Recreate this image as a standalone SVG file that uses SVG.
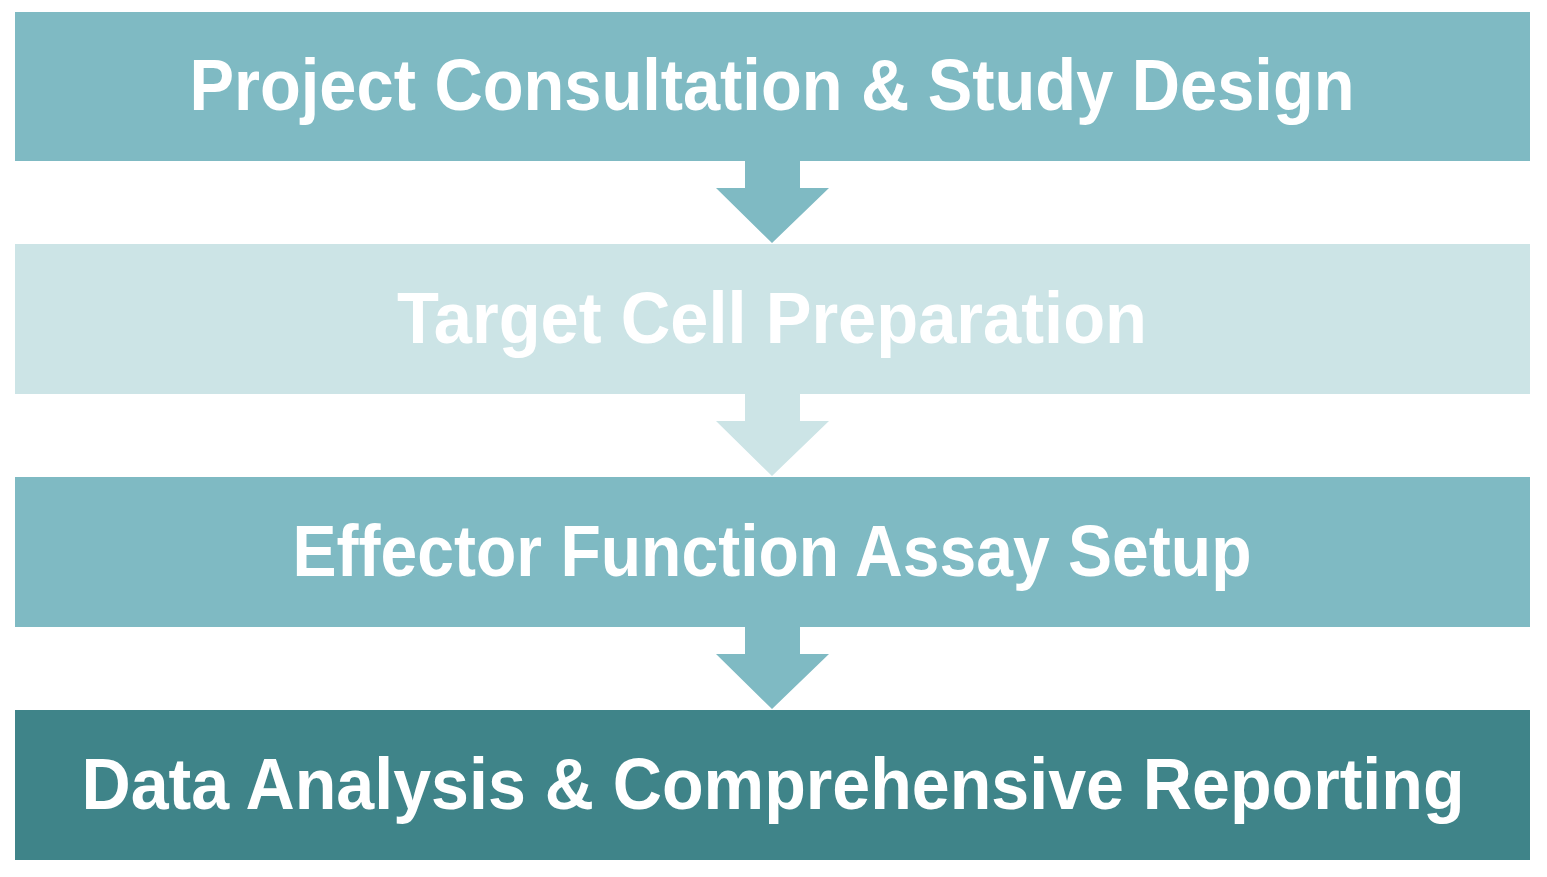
<svg xmlns="http://www.w3.org/2000/svg" width="1547" height="877" viewBox="0 0 1547 877">
<style>
.t{font-family:"Liberation Sans",Arial,sans-serif;font-weight:bold;font-size:72px;fill:#fff;text-anchor:middle}
.a{fill:#7fbac3}.b{fill:#cce4e6}.d{fill:#3f8489}
</style>
<rect width="1547" height="877" fill="#fff"/>
<g id="connectors">
<polygon class="a" points="745,161 800,161 800,188 829,188 772,243 716,188 745,188"/>
<polygon class="b" points="745,394 800,394 800,421 829,421 772,476 716,421 745,421"/>
<polygon class="a" points="745,627 800,627 800,654 829,654 772,709 716,654 745,654"/>
</g>
<g id="n1"><rect class="a" x="15" y="12" width="1515" height="149"/><text class="t" x="772" y="110" textLength="1165" lengthAdjust="spacingAndGlyphs">Project Consultation &amp; Study Design</text></g>
<g id="n2"><rect class="b" x="15" y="244" width="1515" height="150"/><text class="t" x="772" y="343" textLength="750" lengthAdjust="spacingAndGlyphs">Target Cell Preparation</text></g>
<g id="n3"><rect class="a" x="15" y="477" width="1515" height="150"/><text class="t" x="772" y="576" textLength="959" lengthAdjust="spacingAndGlyphs">Effector Function Assay Setup</text></g>
<g id="n4"><rect class="d" x="15" y="710" width="1515" height="150"/><text class="t" x="773" y="809" textLength="1383" lengthAdjust="spacingAndGlyphs">Data Analysis &amp; Comprehensive Reporting</text></g>
</svg>
